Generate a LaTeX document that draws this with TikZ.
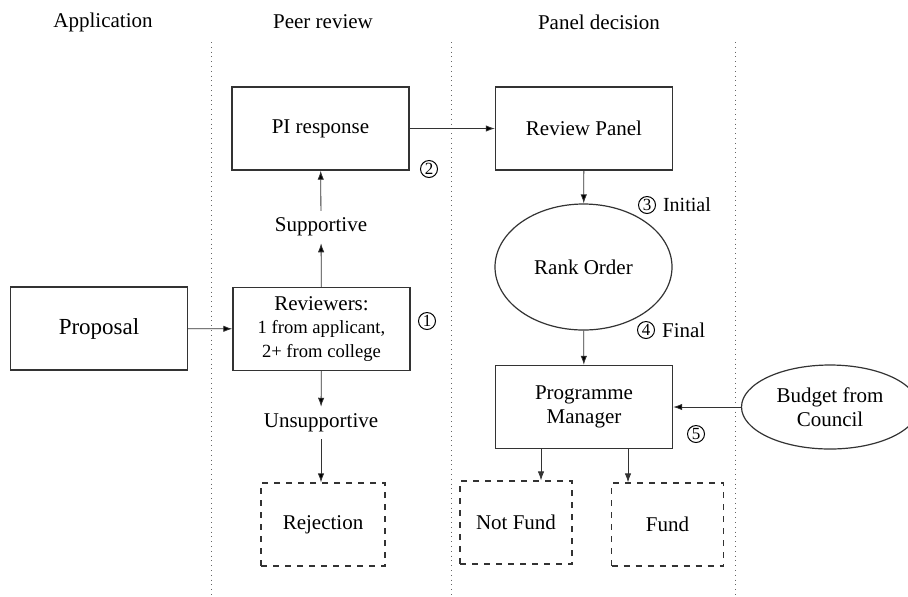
\documentclass[tikz,border=0pt]{standalone}
\usepackage{fontspec}
\setmainfont{Liberation Serif}
\usepackage{tikz}
\usetikzlibrary{arrows.meta,shapes.geometric}

\begin{document}
\begin{tikzpicture}[x=0.5pt,y=-0.5pt,>={Latex[length=4.5pt,width=3.2pt]},
  every node/.style={font=\fontsize{10.5}{12}\selectfont},
  main node/.style={rectangle,draw=black!80,line width=0.7pt,minimum width=88.5pt,minimum height=41.5pt,align=center},
  end node/.style={rectangle,draw=black!80,dashed,line width=0.6pt,minimum height=41.5pt},
  oval node/.style={ellipse,draw=black!80,line width=0.6pt,minimum width=88.5pt,inner sep=0pt,align=center},
  num node/.style={circle,draw,line width=0.5pt,inner sep=0pt,minimum size=8.5pt,font=\fontsize{8.5}{9}\selectfont},
  flow/.style={->,draw=black!80,line width=0.4pt}]

  \useasboundingbox (0,0) rectangle (908,596);

  % lanes
  \foreach \x in {211,451,735}
    \draw[black!60,dotted,line width=0.4pt] (\x,42) -- (\x,596);
  \node (app) at (103,22) {Application};
  \node (peer) at (323,22) {Peer review};
  \node (panel) at (599,22) {Panel decision};

  \node[main node,font=\fontsize{11.5}{13}\selectfont] (prop) at (99,328.5) {Proposal};
  \node[main node] (rev) at (321.5,329) {Reviewers:\\[-0.5pt]{\fontsize{9.3}{12}\selectfont 1 from applicant,}\\{\fontsize{9.3}{12}\selectfont 2+ from college}};
  \node (sup) at (321,227) {Supportive};
  \node (unsup) at (321,423) {Unsupportive};
  \node[main node] (pi) at (320.5,128.5) {PI response};
  \node[end node,minimum width=62pt] (rej) at (323,524.5) {Rejection};

  \node[main node] (panel box) at (584,128.5) {Review Panel};
  \node[oval node,minimum height=63pt] (rank) at (583.5,267) {Rank Order};
  \node[main node] (pm) at (584,407) {Programme\\Manager};
  \node[oval node,minimum height=42pt] (budget) at (830,407) {Budget from\\Council};
  \node[end node,minimum width=56pt] (nofund) at (516,522.5) {Not Fund};
  \node[end node,minimum width=56pt] (fund) at (667.5,524.5) {Fund};

  \node[num node] (n1) at (427,321) {1};
  \node[num node] (n2) at (429,169) {2};
  \node[num node] (n3) at (647,205) {3};
  \node[num node] (n4) at (646,330) {4};
  \node[num node] (n5) at (696,434) {5};
  \node[anchor=west,font=\fontsize{10}{12}\selectfont] (init) at (n3.east) {Initial};
  \node[anchor=west,font=\fontsize{10.5}{12}\selectfont] (fin) at (n4.east) {Final};

  \path[flow]
    (prop) edge (rev)
    (rev) edge (sup)
    (sup) edge (pi)
    (rev) edge (unsup)
    (unsup) edge (rej.north -| unsup)
    (pi) edge (panel box)
    (panel box) edge (rank)
    (rank) edge (pm)
    (budget) edge (pm)
    ;
  \draw[flow] ([xshift=-21.5pt]pm.south) -- ([xshift=-21.5pt]pm.south |- nofund.north);
  \draw[flow] ([xshift=22pt]pm.south) -- ([xshift=22pt]pm.south |- fund.north);

\end{tikzpicture}
\end{document}
